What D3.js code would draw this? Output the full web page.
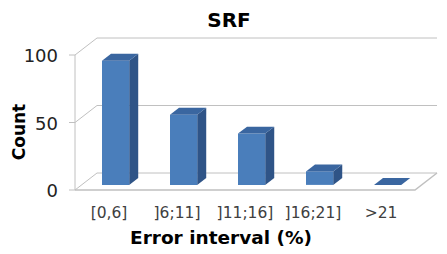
<!DOCTYPE html>
<html>
<head>
<meta charset="utf-8">
<script src="https://cdn.jsdelivr.net/npm/d3@7"></script>
<style>
  body { margin: 0; background: #fff; }
  text { font-family: "DejaVu Sans", Verdana, sans-serif; }
</style>
</head>
<body>
<script>
const categories = ['[0,6]', ']6;11]', ']11;16]', ']16;21]', '>21'];
const counts = [92, 52, 38, 10, 0];
const yTicks = [0, 50, 100];

const svg = d3.select('body').append('svg')
  .attr('width', 447)
  .attr('height', 254);

// front plane of the box, depth offset goes to the back wall
const left = 75, right = 415, floorY = 190, topY = 55;
const depthX = 22, depthY = -17;

const x = d3.scaleBand().domain(categories).range([left, right]);
const y = d3.scaleLinear().domain([0, 100]).range([floorY, topY]);

// point at category-position px, value v, depth z (0 front, 1 back)
function pt(px, v, z) {
  return [px + z * depthX, y(v) + z * depthY];
}
const line = d3.line();
const grid = '#c0c0c0';

// back wall gridlines
yTicks.forEach(t => {
  svg.append('path')
    .attr('d', line([pt(left, t, 1), pt(right, t, 1)]))
    .attr('stroke', grid).attr('fill', 'none');
  // side wall diagonals
  svg.append('path')
    .attr('d', line([pt(left, t, 0), pt(left, t, 1)]))
    .attr('stroke', grid).attr('fill', 'none');
  // tick marks
  svg.append('path')
    .attr('d', line([[left - 6, y(t)], [left, y(t)]]))
    .attr('stroke', grid).attr('fill', 'none');
});

// left axis
svg.append('path')
  .attr('d', line([pt(left, 0, 0), pt(left, 100, 0)]))
  .attr('stroke', grid).attr('fill', 'none');

// floor front edge and right edge
svg.append('path')
  .attr('d', line([pt(left, 0, 0), pt(right, 0, 0), pt(right, 0, 1)]))
  .attr('stroke', grid).attr('stroke-width', 1.5).attr('fill', 'none');

// bars
const bw = x.bandwidth() * 0.4;
const z0 = 0.3, z1 = 0.71;
const bars = svg.append('g');
categories.forEach((c, i) => {
  const v = counts[i];
  const x0 = x(c) + x.bandwidth() / 2 - bw / 2;
  const x1 = x0 + bw;
  const front = [pt(x0, 0, z0), pt(x1, 0, z0), pt(x1, v, z0), pt(x0, v, z0)];
  const side = [pt(x1, 0, z0), pt(x1, 0, z1), pt(x1, v, z1), pt(x1, v, z0)];
  const top = [pt(x0, v, z0), pt(x1, v, z0), pt(x1, v, z1), pt(x0, v, z1)];
  if (v > 0) {
    bars.append('path').attr('d', line(side) + 'Z').attr('fill', '#2f5487');
    bars.append('path').attr('d', line(front) + 'Z').attr('fill', '#4a7ebb');
  }
  bars.append('path').attr('d', line(top) + 'Z').attr('fill', '#3a66a0');
});

// tick labels
svg.append('g').selectAll('text').data(yTicks).join('text')
  .attr('x', left - 17)
  .attr('y', d => y(d) + 7)
  .attr('text-anchor', 'end')
  .attr('font-size', 18)
  .attr('fill', '#222')
  .text(d => d);

// category labels
svg.append('g').selectAll('text').data(categories).join('text')
  .attr('x', d => x(d) + x.bandwidth() / 2)
  .attr('y', 218)
  .attr('text-anchor', 'middle')
  .attr('font-size', 15.5)
  .attr('fill', '#404040')
  .text(d => d);

svg.append('text')
  .attr('x', 229).attr('y', 27)
  .attr('text-anchor', 'middle')
  .attr('font-size', 20).attr('font-weight', 'bold')
  .text('SRF');

svg.append('text')
  .attr('x', 221).attr('y', 244)
  .attr('text-anchor', 'middle')
  .attr('font-size', 18.5).attr('font-weight', 'bold')
  .text('Error interval (%)');

svg.append('text')
  .attr('transform', 'translate(25,132) rotate(-90)')
  .attr('text-anchor', 'middle')
  .attr('font-size', 17).attr('font-weight', 'bold')
  .text('Count');
</script>
</body>
</html>
